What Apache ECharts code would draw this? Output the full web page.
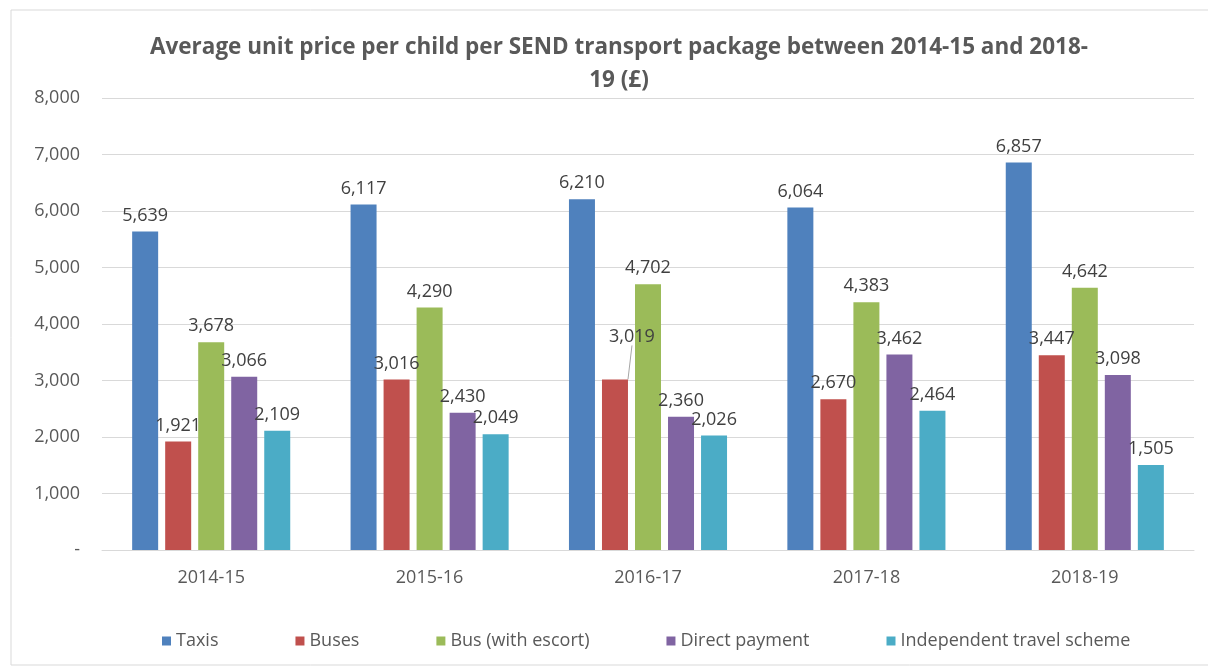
<!DOCTYPE html>
<html lang="en">
<head>
    <meta charset="UTF-8">
    <title>SEND transport unit price</title>
    <script src="https://cdn.jsdelivr.net/npm/echarts@6/dist/echarts.min.js"></script>
</head>
<body style="margin:0; background:#fff;">
    <div id="main" style="width:1208px;height:670px;"></div>
    <script>
        // years on the x axis
        var years = ['2014-15', '2015-16', '2016-17', '2017-18', '2018-19'];

        // average unit price (£) per package
        var taxis = [5639, 6117, 6210, 6064, 6857];
        var buses = [1921, 3016, 3019, 2670, 3447];
        var busEscort = [3678, 4290, 4702, 4383, 4642];
        var directPayment = [3066, 2430, 2360, 3462, 3098];
        var independentTravel = [2109, 2049, 2026, 2464, 1505];

        var seriesNames = ['Taxis', 'Buses', 'Bus (with escort)', 'Direct payment', 'Independent travel scheme'];
        var seriesData = [taxis, buses, busEscort, directPayment, independentTravel];
        var colors = ['#4f81bd', '#c0504d', '#9bbb59', '#8064a2', '#4bacc6'];

        var fontName = '"Open Sans", sans-serif';

        function fmt(v) {
            return v === 0 ? '-' : v.toLocaleString('en-GB');
        }

        var chart = echarts.init(document.getElementById('main'));

        var series = seriesData.map(function (d, i) {
            var items = d.map(function (v, j) {
                // the 2016-17 buses label is pushed up with a leader line
                if (i === 1 && j === 2) {
                    return { value: v, labelLine: { show: true, lineStyle: { color: '#a6a6a6', width: 1 } } };
                }
                return { value: v, labelLine: { show: false } };
            });
            var s = {
                name: seriesNames[i],
                type: 'bar',
                data: items,
                barWidth: 26,
                barGap: '27%',
                itemStyle: { color: colors[i] },
                label: {
                    show: true,
                    position: 'top',
                    distance: 7,
                    color: '#404040',
                    fontSize: 18,
                    fontFamily: fontName,
                    formatter: function (p) { return fmt(p.value); }
                }
            };
            if (i === 1) {
                s.labelLayout = function (p) {
                    return p.dataIndex === 2 ? { dx: 17, dy: -27 } : {};
                };
            }
            return s;
        });

        var option = {
            animation: false,
            color: colors,
            title: {
                text: 'Average unit price per child per SEND transport package between 2014-15 and 2018-\n19 (£)',
                left: 614,
                textAlign: 'center',
                top: 26,
                textStyle: {
                    color: '#595959',
                    fontSize: 22.5,
                    fontWeight: 'bold',
                    fontFamily: fontName,
                    lineHeight: 33
                }
            },
            legend: {
                data: seriesNames,
                left: 157,
                top: 627,
                itemWidth: 9,
                itemHeight: 9,
                itemGap: 77,
                icon: 'rect',
                textStyle: { color: '#595959', fontSize: 18, fontFamily: fontName }
            },
            grid: {
                left: 102,
                right: 14,
                top: 98,
                bottom: 120
            },
            xAxis: {
                type: 'category',
                data: years,
                axisTick: { show: false },
                axisLine: { lineStyle: { color: '#d9d9d9' } },
                axisLabel: { color: '#595959', fontSize: 18, fontFamily: fontName, margin: 19 }
            },
            yAxis: {
                type: 'value',
                min: 0,
                max: 8000,
                interval: 1000,
                axisLabel: {
                    color: '#595959',
                    fontSize: 18,
                    fontFamily: fontName,
                    margin: 22,
                    formatter: fmt
                },
                splitLine: { lineStyle: { color: '#d9d9d9' } }
            },
            graphic: [{
                type: 'rect',
                shape: { x: 11, y: 10, width: 1210, height: 655 },
                style: { fill: 'none', stroke: '#d9d9d9', lineWidth: 1 },
                silent: true
            }],
            series: series
        };

        chart.setOption(option);
    </script>
</body>
</html>
